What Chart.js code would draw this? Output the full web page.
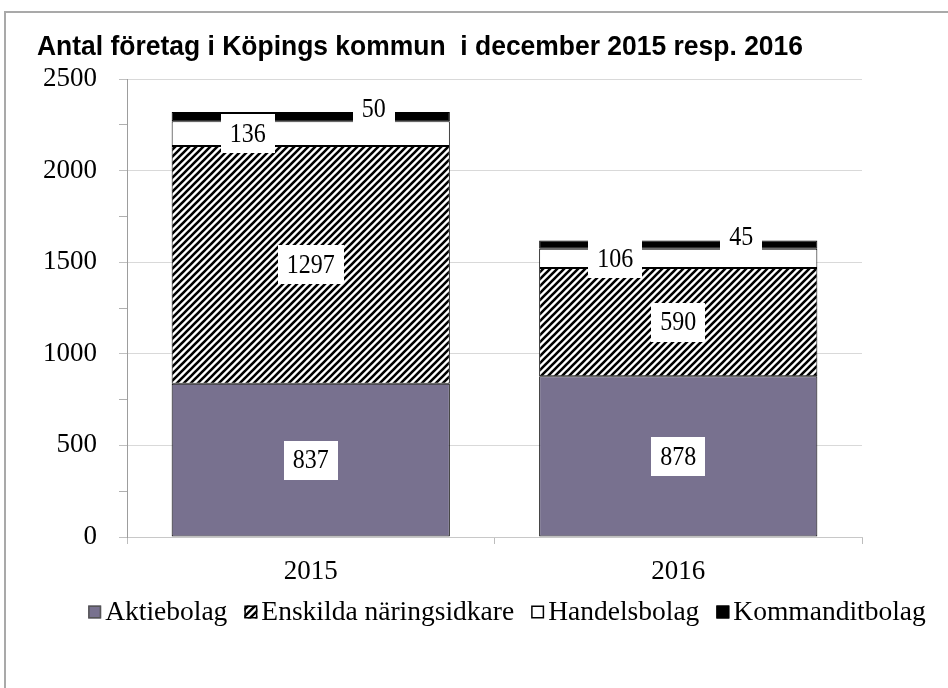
<!DOCTYPE html>
<html>
<head>
<meta charset="utf-8">
<script src="https://cdn.jsdelivr.net/npm/chart.js@4/dist/chart.umd.min.js"></script>
<style>
  html, body { margin: 0; padding: 0; background: #fff; }
  #wrap { position: relative; width: 948px; height: 688px; overflow: hidden; }
  #frame { position: absolute; left: 4px; top: 11px; width: 960px; height: 700px;
           border-left: 2px solid #a9a9a9; border-top: 2px solid #a9a9a9; }
  canvas { position: absolute; left: 0; top: 0; }
</style>
</head>
<body>
<div id="wrap">
  <div id="frame"></div>
  <canvas id="c" width="948" height="688"></canvas>
</div>
<script>
// ---- data ----
const titleText = 'Antal företag i Köpings kommun  i december 2015 resp. 2016';
const categories = ['2015', '2016'];
const seriesNames = ['Aktiebolag', 'Enskilda näringsidkare', 'Handelsbolag', 'Kommanditbolag'];
const aktiebolag = [837, 878];
const enskilda = [1297, 590];
const handelsbolag = [136, 106];
const kommanditbolag = [50, 45];
const yMax = 2500;
const yMajorStep = 500;
const yMinorStep = 250;

// ---- styles ----
const SERIF = '"Liberation Serif", "Times New Roman", serif';
const SANS = '"Liberation Sans", Arial, sans-serif';
const purple = '#78718f';

function makeHatch() {
  const s = 7;
  const c = document.createElement('canvas');
  c.width = s; c.height = s;
  const g = c.getContext('2d');
  g.fillStyle = '#fff';
  g.fillRect(0, 0, s, s);
  g.strokeStyle = '#000';
  g.lineWidth = 2.6;
  g.beginPath();
  g.moveTo(-1, s + 1); g.lineTo(s + 1, -1);
  g.moveTo(-1, 1); g.lineTo(1, -1);
  g.moveTo(s - 1, s + 1); g.lineTo(s + 1, s - 1);
  g.stroke();
  return document.getElementById('c').getContext('2d').createPattern(c, 'repeat');
}
const hatch = makeHatch();

// label offsets (px) relative to segment centre, per series
const labelOffsets = [
  { dx: 0, dy: 0 },
  { dx: 0, dy: 0 },
  { dx: -63, dy: 0 },
  { dx: 63, dy: -8 }
];

const fills = [purple, hatch, '#ffffff', '#000000'];
const legendBorders = ['#555', '#000', '#000', '#000'];
const seriesValues = [aktiebolag, enskilda, handelsbolag, kommanditbolag];

const datasets = seriesNames.map((name, i) => ({
  label: name,
  data: seriesValues[i],
  backgroundColor: fills[i],
  borderColor: '#000',
  borderWidth: 1,
  borderSkipped: false,
  categoryPercentage: 1.0,
  barPercentage: 0.757
}));

const decorPlugin = {
  id: 'decor',
  afterDatasetsDraw(chart) {
    const ctx = chart.ctx;
    chart.data.datasets.forEach((ds, di) => {
      const meta = chart.getDatasetMeta(di);
      const off = labelOffsets[di];
      meta.data.forEach((el, j) => {
        const v = ds.data[j];
        const cx = el.x + off.dx;
        const cy = (el.y + el.base) / 2 + off.dy;
        ctx.save();
        ctx.font = '24px ' + SERIF;
        const txt = String(v);
        const w = ctx.measureText(txt).width + 18;
        const h = 39;
        ctx.fillStyle = '#fff';
        ctx.fillRect(Math.round(cx - w / 2), Math.round(cy - h / 2), Math.round(w), h);
        ctx.fillStyle = '#000';
        ctx.textAlign = 'center';
        ctx.textBaseline = 'middle';
        ctx.translate(cx, cy + 1);
        ctx.scale(1, 1.15);
        ctx.fillText(txt, 0, 0);
        ctx.restore();
      });
    });
  },
  afterDraw(chart) {
    const ctx = chart.ctx;
    ctx.save();
    // title
    ctx.font = 'bold 25px ' + SANS;
    ctx.fillStyle = '#000';
    ctx.textAlign = 'left';
    ctx.textBaseline = 'alphabetic';
    const tw = ctx.measureText(titleText).width;
    const target = 766;
    ctx.translate(37, 55);
    ctx.scale(target / tw, 1.12);
    ctx.fillText(titleText, 0, 0);
    ctx.restore();

    // legend
    ctx.save();
    const fs = 27.5;
    ctx.font = fs + 'px ' + SERIF;
    const box = 13, gapBox = 4, gapItem = 17;
    const widths = seriesNames.map(n => ctx.measureText(n).width);
    let total = 0;
    widths.forEach((w, i) => { total += box + gapBox + w + (i < widths.length - 1 ? gapItem : 0); });
    let x = 507 - total / 2;
    const yc = 612;
    ctx.textBaseline = 'middle';
    ctx.textAlign = 'left';
    seriesNames.forEach((n, i) => {
      ctx.fillStyle = fills[i];
      ctx.fillRect(x, yc - box / 2, box, box);
      ctx.strokeStyle = legendBorders[i];
      ctx.lineWidth = 1.5;
      ctx.strokeRect(x + 0.75, yc - box / 2 + 0.75, box - 1.5, box - 1.5);
      ctx.fillStyle = '#000';
      ctx.fillText(n, x + box + gapBox, yc + 1);
      x += box + gapBox + widths[i] + gapItem;
    });
    ctx.restore();
  }
};

new Chart(document.getElementById('c'), {
  type: 'bar',
  data: { labels: categories, datasets },
  plugins: [decorPlugin],
  options: {
    responsive: false,
    animation: false,
    events: [],
    layout: { padding: { left: 37, right: 86, top: 79, bottom: 81 } },
    plugins: {
      legend: { display: false },
      title: { display: false },
      tooltip: { enabled: false }
    },
    scales: {
      x: {
        stacked: true,
        afterFit(scale) { scale.height = 70; },
        border: { display: true, color: '#c8c8c8', width: 1 },
        grid: { offset: true, drawOnChartArea: false, drawTicks: true, tickLength: 7, tickColor: '#bdbdbd', color: '#bdbdbd' },
        ticks: { color: '#000', font: { family: SERIF, size: 27 }, padding: 12 }
      },
      y: {
        stacked: true,
        min: 0,
        max: yMax,
        afterFit(scale) { scale.width = 90; },
        border: { display: true, color: '#9d9d9d', width: 1 },
        grid: {
          color: (c) => (c.tick && c.tick.value % yMajorStep === 0) ? '#d9d9d9' : 'rgba(0,0,0,0)',
          tickColor: (c) => (c.tick && c.tick.value % yMajorStep === 0) ? '#c0c0c0' : '#b0b0b0',
          tickLength: 8,
          lineWidth: 1
        },
        ticks: {
          stepSize: yMinorStep,
          autoSkip: false,
          color: '#000',
          font: { family: SERIF, size: 27 },
          padding: 22,
          callback: (v) => (v % yMajorStep === 0 ? String(v) : '')
        }
      }
    }
  }
});
</script>
</body>
</html>
